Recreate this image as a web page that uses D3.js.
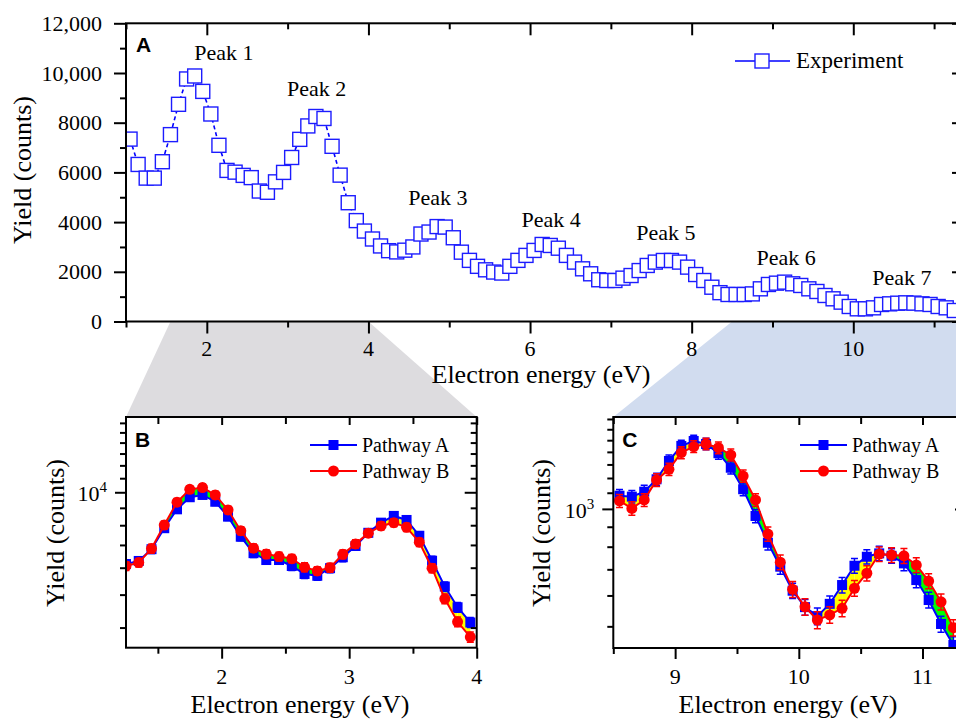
<!DOCTYPE html>
<html>
<head>
<meta charset="utf-8">
<script src="https://cdn.jsdelivr.net/npm/d3@7/dist/d3.min.js"></script>
<style>
body { margin: 0; background: #fff; }
svg { display: block; }
</style>
</head>
<body>
<svg id="chart" width="956" height="722"></svg>
<script>
// ---- panel A: experiment ----
var expEnergy = [1.05, 1.15, 1.25, 1.35, 1.45, 1.55, 1.65, 1.75, 1.85, 1.95,
    2.05, 2.15, 2.25, 2.35, 2.45, 2.55, 2.65, 2.75, 2.85, 2.95,
    3.05, 3.15, 3.25, 3.35, 3.45, 3.55, 3.65, 3.75, 3.85, 3.95,
    4.05, 4.15, 4.25, 4.35, 4.45, 4.55, 4.65, 4.75, 4.85, 4.95,
    5.05, 5.15, 5.25, 5.35, 5.45, 5.55, 5.65, 5.75, 5.85, 5.95,
    6.05, 6.15, 6.25, 6.35, 6.45, 6.55, 6.65, 6.75, 6.85, 6.95,
    7.05, 7.15, 7.25, 7.35, 7.45, 7.55, 7.65, 7.75, 7.85, 7.95,
    8.05, 8.15, 8.25, 8.35, 8.45, 8.55, 8.65, 8.75, 8.85, 8.95,
    9.05, 9.15, 9.25, 9.35, 9.45, 9.55, 9.65, 9.75, 9.85, 9.95,
    10.05, 10.15, 10.25, 10.35, 10.45, 10.55, 10.65, 10.75, 10.85, 10.95,
    11.05, 11.15, 11.25];
var expYield = [7340, 6320, 5770, 5770, 6430, 7520, 8740, 9760, 9880, 9260,
    8350, 7090, 6080, 6010, 5880, 5790, 5250, 5200, 5620, 6000,
    6600, 7330, 7870, 8250, 8170, 7050, 5890, 4780, 4060, 3640,
    3320, 3040, 2850, 2800, 2870, 3000, 3520, 3600, 3820, 3800,
    3370, 2790, 2460, 2220, 2080, 1990, 1950, 2220, 2460, 2660,
    2860, 3100, 3060, 2950, 2660, 2390, 2120, 1920, 1680, 1650,
    1650, 1745, 1850, 2050, 2255, 2390, 2456, 2456, 2390, 2188,
    1890, 1650, 1380, 1160, 1087, 1087, 1087, 1110, 1315, 1490,
    1543, 1584, 1517, 1450, 1315, 1208, 1047, 913, 779, 604,
    510, 510, 550, 685, 711, 737, 751, 740, 711, 685,
    604, 550, 443];
var peakNames = ['Peak 1', 'Peak 2', 'Peak 3', 'Peak 4', 'Peak 5', 'Peak 6', 'Peak 7'];
var peakEnergy = [2.21, 3.36, 4.86, 6.26, 7.68, 9.17, 10.6];
var peakCounts = [10520, 9070, 4690, 3800, 3280, 2270, 1470];
var yTicksA = [0, 2000, 4000, 6000, 8000, 10000, 12000];
var yMinorA = [1000, 3000, 5000, 7000, 9000, 11000];
var xTicksA = [2, 4, 6, 8, 10];
var xMinorA = [1, 3, 5, 7, 9, 11];

// ---- panel B: 1.25 - 4 eV ----
var energyB = [1.25, 1.35, 1.45, 1.55, 1.65, 1.75, 1.85, 1.95, 2.05, 2.15,
    2.25, 2.35, 2.45, 2.55, 2.65, 2.75, 2.85, 2.95, 3.05, 3.15,
    3.25, 3.35, 3.45, 3.55, 3.65, 3.75, 3.85, 3.95];
var pathABYield = [6150, 6280, 6800, 7840, 8910, 9670, 9820, 9380, 8480, 7400,
    6620, 6320, 6320, 6070, 5750, 5680, 5980, 6440, 6950, 7600,
    8140, 8520, 8290, 7450, 6290, 5280, 4590, 4140];
var pathBBYield = [6070, 6210, 6830, 8010, 9350, 10200, 10320, 9820, 8870, 7710,
    6850, 6580, 6470, 6380, 6020, 5870, 6000, 6570, 7050, 7580,
    7960, 8140, 7890, 7130, 5980, 4860, 4160, 3750];
var pathABErr = [180, 180, 190, 210, 230, 240, 240, 240, 220, 200,
    190, 180, 180, 180, 170, 170, 180, 190, 200, 210,
    220, 230, 220, 210, 190, 170, 150, 140];
var pathBBErr = [180, 180, 200, 220, 240, 250, 250, 250, 230, 210,
    190, 190, 190, 180, 180, 170, 180, 190, 200, 210,
    220, 220, 220, 200, 180, 160, 140, 130];
var xTicksB = [2, 3, 4];
var xMinorB = [1.5, 2.5, 3.5];
var yMinorB = [4000, 5000, 6000, 7000, 8000, 9000, 11000, 12000, 13000, 14000, 15000, 16000];

// ---- panel C: 8.5 - 11.4 eV ----
var energyC = [8.55, 8.65, 8.75, 8.85, 8.95, 9.05, 9.15, 9.25, 9.35, 9.45,
    9.55, 9.65, 9.75, 9.85, 9.95, 10.05, 10.15, 10.25, 10.35, 10.45,
    10.55, 10.65, 10.75, 10.85, 10.95, 11.05, 11.15, 11.25];
var pathACYield = [1081, 1075, 1107, 1191, 1327, 1450, 1493, 1467, 1389, 1275,
    1123, 959, 819, 711, 617, 560, 531, 571, 638, 715,
    754, 769, 758, 725, 657, 584, 507, 448];
var pathBCYield = [1048, 1003, 1054, 1186, 1263, 1394, 1444, 1467, 1435, 1375,
    1214, 1054, 862, 730, 622, 561, 519, 535, 556, 626,
    684, 766, 762, 758, 718, 653, 578, 496];
var pathACErr = [40, 40, 42, 44, 48, 50, 52, 50, 48, 46,
    42, 38, 34, 31, 28, 26, 26, 27, 29, 31,
    32, 33, 32, 31, 29, 27, 24, 22];
var pathBCErr = [40, 40, 40, 44, 46, 50, 50, 50, 50, 48,
    44, 40, 36, 32, 29, 27, 26, 26, 27, 29,
    31, 33, 33, 33, 31, 29, 27, 24];
var xTicksC = [9, 10, 11];
var xMinorC = [8.5, 9.5, 10.5, 11.5];
var yMinorC = [500, 600, 700, 800, 900, 1100, 1200, 1300, 1400, 1500, 1600, 1700];

// zoom windows on panel A
var zoomWindowB = [1.55, 4];
var zoomWindowC = [8.5, 11.37];

var serif = "'Liberation Serif', 'Times New Roman', 'DejaVu Serif', serif";
var sans = "'Liberation Sans', Arial, 'DejaVu Sans', sans-serif";

var svg = d3.select('#chart')
    .attr('font-family', serif)
    .style('font-family', serif);

var xA = d3.scaleLinear().domain([1, 11.37]).range([126, 964]);
var yA = d3.scaleLinear().domain([0, 12000]).range([321.5, 23.3]);
var xB = d3.scaleLinear().domain([1.25, 4]).range([126, 476.7]);
var yB = d3.scaleLog().domain([3490, 16650]).range([647.7, 417]);
var xC = d3.scaleLinear().domain([8.5, 11.36]).range([613.3, 967]);
var yC = d3.scaleLog().domain([440, 1720]).range([648, 417]);

function label(g, x, y, size, str)
{
    return g.append('text')
        .attr('x', x).attr('y', y)
        .style('font-family', serif)
        .style('font-size', size + 'px')
        .attr('fill', '#000')
        .text(str);
}

function draw_ticks(g, orient, scale, values, len, pos)
{
    let axis = orient === 'left' ? d3.axisLeft(scale)
        : orient === 'right' ? d3.axisRight(scale)
        : orient === 'top' ? d3.axisTop(scale) : d3.axisBottom(scale);
    axis.tickValues(values).tickSize(len).tickSizeOuter(0).tickFormat('');
    let a = g.append('g').attr('transform', pos).call(axis);
    a.select('.domain').remove();
    a.selectAll('.tick line').attr('stroke', '#000').attr('stroke-width', 2);
    return a;
}

function draw_frame(g, x, y)
{
    let r = x.range(), s = y.range();
    g.append('rect')
        .attr('x', r[0]).attr('y', s[1])
        .attr('width', r[1] - r[0]).attr('height', s[0] - s[1])
        .attr('fill', 'none').attr('stroke', '#000').attr('stroke-width', 2);
}

function add_clip(id, x, y)
{
    let r = x.range(), s = y.range();
    svg.append('clipPath').attr('id', id).append('rect')
        .attr('x', r[0]).attr('y', s[1])
        .attr('width', r[1] - r[0]).attr('height', s[0] - s[1]);
}

// zoom trapezoids
svg.append('path')
    .attr('d', 'M' + xA(zoomWindowB[0]) + ',' + yA(0) + 'L' + xA(zoomWindowB[1]) + ',' + yA(0) +
        'L' + xB.range()[1] + ',' + yB.range()[1] + 'L' + xB.range()[0] + ',' + yB.range()[1] + 'Z')
    .attr('fill', '#dddcdf');
svg.append('path')
    .attr('d', 'M' + xA(zoomWindowC[0]) + ',' + yA(0) + 'L' + xA(zoomWindowC[1]) + ',' + yA(0) +
        'L' + xC.range()[1] + ',' + yC.range()[1] + 'L' + xC.range()[0] + ',' + yC.range()[1] + 'Z')
    .attr('fill', '#d1dcef');

// ---------------- panel A ----------------
var gA = svg.append('g');
add_clip('clipA', xA, yA);

var expPts = expEnergy.map(function(e, i) { return [e, expYield[i]]; });
var plotA = gA.append('g').attr('clip-path', 'url(#clipA)');
plotA.append('path')
    .datum(expPts)
    .attr('d', d3.line().x(function(d) { return xA(d[0]); }).y(function(d) { return yA(d[1]); }))
    .attr('fill', 'none')
    .attr('stroke', '#0000ff')
    .attr('stroke-width', 1.6)
    .attr('stroke-dasharray', '4,3');
plotA.selectAll('.exp')
    .data(expPts)
    .enter().append('rect')
    .attr('class', 'exp')
    .attr('x', function(d) { return xA(d[0]) - 7; })
    .attr('y', function(d) { return yA(d[1]) - 7; })
    .attr('width', 14).attr('height', 14)
    .attr('fill', '#fff')
    .attr('stroke', '#1c1cff')
    .attr('stroke-width', 1.4);

draw_frame(gA, xA, yA);
draw_ticks(gA, 'left', yA, yTicksA, 12, 'translate(126,0)');
draw_ticks(gA, 'left', yA, yMinorA, 6, 'translate(126,0)');
draw_ticks(gA, 'right', yA, yTicksA, -12, 'translate(964,0)');
draw_ticks(gA, 'right', yA, yMinorA, -6, 'translate(964,0)');
draw_ticks(gA, 'bottom', xA, xTicksA, 12, 'translate(0,' + yA(0) + ')');
draw_ticks(gA, 'bottom', xA, xMinorA, 6, 'translate(0,' + yA(0) + ')');
draw_ticks(gA, 'top', xA, xTicksA, -12, 'translate(0,' + yA(12000) + ')');
draw_ticks(gA, 'top', xA, xMinorA, -6, 'translate(0,' + yA(12000) + ')');

yTicksA.forEach(function(d) {
    label(gA, 102, yA(d) + 7.5, 22, d >= 10000 ? d3.format(',')(d) : d)
        .attr('text-anchor', 'end');
});
xTicksA.forEach(function(d) {
    label(gA, xA(d), 356, 22, d).attr('text-anchor', 'middle');
});

label(gA, 0, 0, 26, 'Yield (counts)')
    .attr('transform', 'translate(31,170) rotate(-90)')
    .attr('text-anchor', 'middle');
label(gA, 541, 383, 26, 'Electron energy (eV)').attr('text-anchor', 'middle');
label(gA, 136, 52, 21, 'A')
    .style('font-family', sans)
    .style('font-weight', 'bold');

peakNames.forEach(function(d, i) {
    label(gA, xA(peakEnergy[i]), yA(peakCounts[i]), 22, d).attr('text-anchor', 'middle');
});

// legend A
gA.append('line')
    .attr('x1', 735).attr('x2', 790).attr('y1', 61).attr('y2', 61)
    .attr('stroke', '#0000ff').attr('stroke-width', 1.6);
gA.append('rect')
    .attr('x', 755).attr('y', 54).attr('width', 14).attr('height', 14)
    .attr('fill', '#fff').attr('stroke', '#1c1cff').attr('stroke-width', 1.4);
label(gA, 796, 68, 23, 'Experiment');

// ---------------- panels B and C ----------------
function fill_between(g, x, y, xs, ya, yb)
{
    let green = '#00ff00', yellow = '#ffff00';
    for (let i = 0; i < xs.length - 1; ++i) {
        let x0 = x(xs[i]), x1 = x(xs[i + 1]);
        let a0 = y(ya[i]), a1 = y(ya[i + 1]);
        let b0 = y(yb[i]), b1 = y(yb[i + 1]);
        let d0 = a0 - b0, d1 = a1 - b1;
        if (d0 * d1 >= 0) {
            g.append('path')
                .attr('d', 'M' + x0 + ',' + a0 + 'L' + x1 + ',' + a1 + 'L' + x1 + ',' + b1 + 'L' + x0 + ',' + b0 + 'Z')
                .attr('fill', (d0 + d1) > 0 ? green : yellow);
        } else {
            let t = d0 / (d0 - d1);
            let cx = x0 + t * (x1 - x0), cy = a0 + t * (a1 - a0);
            g.append('path')
                .attr('d', 'M' + x0 + ',' + a0 + 'L' + cx + ',' + cy + 'L' + x0 + ',' + b0 + 'Z')
                .attr('fill', d0 > 0 ? green : yellow);
            g.append('path')
                .attr('d', 'M' + cx + ',' + cy + 'L' + x1 + ',' + a1 + 'L' + x1 + ',' + b1 + 'Z')
                .attr('fill', d1 > 0 ? green : yellow);
        }
    }
}

function draw_series(g, x, y, xs, ys, err, color, marker)
{
    let pts = xs.map(function(e, i) { return [e, ys[i], err[i]]; });
    g.append('path')
        .datum(pts)
        .attr('d', d3.line().x(function(d) { return x(d[0]); }).y(function(d) { return y(d[1]); }))
        .attr('fill', 'none').attr('stroke', color).attr('stroke-width', 2);
    let eb = g.append('g');
    eb.selectAll('.err').data(pts).enter().append('path')
        .attr('d', function(d) {
            let cx = x(d[0]), lo = y(d[1] - d[2]), hi = y(d[1] + d[2]);
            return 'M' + cx + ',' + lo + 'V' + hi +
                'M' + (cx - 3.5) + ',' + lo + 'H' + (cx + 3.5) +
                'M' + (cx - 3.5) + ',' + hi + 'H' + (cx + 3.5);
        })
        .attr('stroke', color).attr('stroke-width', 1.5).attr('fill', 'none');
    if (marker === 'square') {
        g.selectAll('.sq').data(pts).enter().append('rect')
            .attr('x', function(d) { return x(d[0]) - 5; })
            .attr('y', function(d) { return y(d[1]) - 5; })
            .attr('width', 10).attr('height', 10)
            .attr('fill', color);
    } else {
        g.selectAll('.ci').data(pts).enter().append('circle')
            .attr('cx', function(d) { return x(d[0]); })
            .attr('cy', function(d) { return y(d[1]); })
            .attr('r', 5.5)
            .attr('fill', color);
    }
}

function draw_legend(g, x0, y0)
{
    g.append('line').attr('x1', x0).attr('x2', x0 + 47).attr('y1', y0).attr('y2', y0)
        .attr('stroke', '#0000ff').attr('stroke-width', 2);
    g.append('rect').attr('x', x0 + 18.5).attr('y', y0 - 5).attr('width', 10).attr('height', 10)
        .attr('fill', '#0000ff');
    label(g, x0 + 52, y0 + 7, 20, 'Pathway A');
    g.append('line').attr('x1', x0).attr('x2', x0 + 47).attr('y1', y0 + 26).attr('y2', y0 + 26)
        .attr('stroke', '#ff0000').attr('stroke-width', 2);
    g.append('circle').attr('cx', x0 + 23.5).attr('cy', y0 + 26).attr('r', 5.5)
        .attr('fill', '#ff0000');
    label(g, x0 + 52, y0 + 33, 20, 'Pathway B');
}

function draw_zoom_panel(id, letter, x, y, xs, ya, yb, ea, eb, xTicks, xMinor, yMajor, yMinor, expo, yLabelX, xLabelX, legendX)
{
    let g = svg.append('g');
    add_clip(id, x, y);
    let plot = g.append('g').attr('clip-path', 'url(#' + id + ')');
    fill_between(plot, x, y, xs, ya, yb);
    draw_series(plot, x, y, xs, ya, ea, '#0000ff', 'square');
    draw_series(plot, x, y, xs, yb, eb, '#ff0000', 'circle');

    let r = x.range(), s = y.range();
    draw_frame(g, x, y);
    draw_ticks(g, 'left', y, [yMajor], 11, 'translate(' + r[0] + ',0)');
    draw_ticks(g, 'left', y, yMinor, 6, 'translate(' + r[0] + ',0)');
    draw_ticks(g, 'right', y, [yMajor], -12, 'translate(' + r[1] + ',0)');
    draw_ticks(g, 'right', y, yMinor, -6, 'translate(' + r[1] + ',0)');
    draw_ticks(g, 'bottom', x, xTicks, 11, 'translate(0,' + s[0] + ')');
    draw_ticks(g, 'bottom', x, xMinor, 6, 'translate(0,' + s[0] + ')');
    draw_ticks(g, 'top', x, xTicks, -8, 'translate(0,' + s[1] + ')');
    draw_ticks(g, 'top', x, xMinor, -7, 'translate(0,' + s[1] + ')');

    xTicks.forEach(function(d) {
        label(g, x(d), 684, 22, d).attr('text-anchor', 'middle');
    });

    let yl = label(g, r[0] - 19, y(yMajor) + 9, 22, '').attr('text-anchor', 'end');
    yl.append('tspan').text('10');
    yl.append('tspan').attr('dy', -9).style('font-size', '15px').text(expo);

    label(g, 0, 0, 26, 'Yield (counts)')
        .attr('transform', 'translate(' + yLabelX + ',533) rotate(-90)')
        .attr('text-anchor', 'middle');
    label(g, xLabelX, 713, 26, 'Electron energy (eV)').attr('text-anchor', 'middle');
    label(g, r[0] + 9, 447, 21, letter)
        .style('font-family', sans)
        .style('font-weight', 'bold');
    draw_legend(g, legendX, 445);
}

draw_zoom_panel('clipB', 'B', xB, yB, energyB, pathABYield, pathBBYield, pathABErr, pathBBErr,
    xTicksB, xMinorB, 10000, yMinorB, '4', 64, 300, 310);
draw_zoom_panel('clipC', 'C', xC, yC, energyC, pathACYield, pathBCYield, pathACErr, pathBCErr,
    xTicksC, xMinorC, 1000, yMinorC, '3', 550, 788, 800);
</script>
</body>
</html>
